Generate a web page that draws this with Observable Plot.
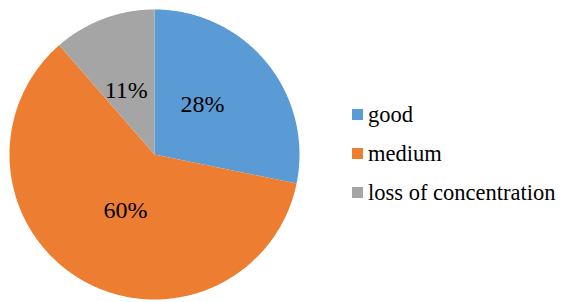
<!DOCTYPE html>
<html>
<head>
<meta charset="utf-8">
<script src="https://cdn.jsdelivr.net/npm/d3@7"></script>
<script src="https://cdn.jsdelivr.net/npm/@observablehq/plot@0.6"></script>
<style>
  html, body { margin: 0; padding: 0; background: #fff; }
  #wrap { position: relative; width: 568px; height: 302px; font-family: "Liberation Serif", "Times New Roman", serif; }
  #pie { position: absolute; left: 0; top: 0; }
  #legend { position: absolute; left: 352px; top: 95px; }
  .item { display: flex; align-items: center; height: 39px; font-size: 22.5px; color: #000; }
  .sw { width: 11px; height: 11px; margin-right: 5px; flex: none; }
</style>
</head>
<body>
<div id="wrap"><div id="pie"></div><div id="legend"></div></div>
<script>
const categories = ["good", "medium", "loss of concentration"];
const values = [28.2, 60.4, 11.4];
const labels = ["28%", "60%", "11%"];
const colors = ["#5B9BD5", "#ED7D31", "#A5A5A5"];

const pie = d3.pie().sort(null).value(d => d.value)(
  categories.map((c, i) => ({key: c, value: values[i], label: labels[i]}))
);

// polygon outline of each slice (angles from 12 o'clock, clockwise)
const pts = [];
for (const a of pie) {
  const n = Math.max(2, Math.ceil((a.endAngle - a.startAngle) / 0.01));
  pts.push({key: a.data.key, x: 0, y: 0});
  for (let k = 0; k <= n; k++) {
    const t = a.startAngle + (a.endAngle - a.startAngle) * k / n;
    pts.push({key: a.data.key, x: Math.sin(t), y: Math.cos(t)});
  }
  pts.push({key: a.data.key, x: 0, y: 0});
}
const lab = pie.map(a => {
  const m = (a.startAngle + a.endAngle) / 2 - 0.08;
  return {text: a.data.label, x: 0.46 * Math.sin(m), y: 0.46 * Math.cos(m)};
});

const chart = Plot.plot({
  width: 310, height: 302,
  marginLeft: 9, marginRight: 11, marginTop: 9, marginBottom: 3,
  x: {domain: [-1, 1], axis: null},
  y: {domain: [-1, 1], axis: null},
  color: {domain: categories, range: colors},
  style: {fontFamily: '"Liberation Serif", "Times New Roman", serif', background: "white"},
  marks: [
    Plot.line(pts, {x: "x", y: "y", z: "key", fill: "key", stroke: "none", curve: "linear-closed"}),
    Plot.text(lab, {x: "x", y: "y", text: "text", fontSize: 24, fill: "black", dy: -4})
  ]
});
document.getElementById("pie").appendChild(chart);

const lg = document.getElementById("legend");
categories.forEach((c, i) => {
  const it = document.createElement("div");
  it.className = "item";
  it.innerHTML = `<span class="sw" style="background:${colors[i]}"></span><span>${c}</span>`;
  lg.appendChild(it);
});
</script>
</body>
</html>
